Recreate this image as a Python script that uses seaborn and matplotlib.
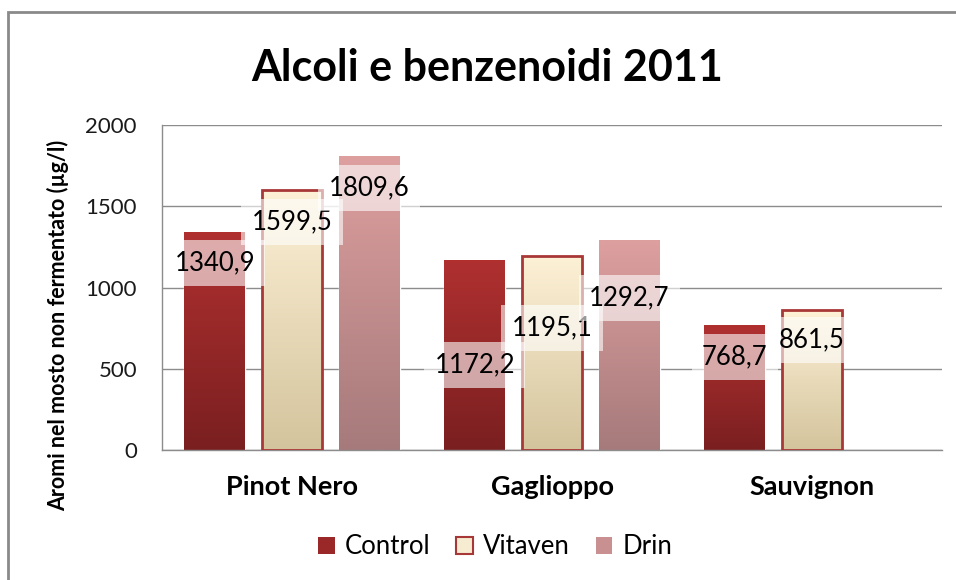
import numpy as np
import pandas as pd
import matplotlib
matplotlib.use("Agg")
import matplotlib.pyplot as plt
import seaborn as sns
from matplotlib.colors import LinearSegmentedColormap
from matplotlib.patches import Patch, Rectangle

# dati
varieta = ["Pinot Nero", "Gaglioppo", "Sauvignon"]
trattamenti = ["Control", "Vitaven", "Drin"]
control = [1340.9, 1172.2, 768.7]
vitaven = [1599.5, 1195.1, 861.5]
drin = [1809.6, 1292.7, np.nan]
yticks = [0, 500, 1000, 1500, 2000]

# altezza (in µg/l) dove stanno le etichette, spostate a mano come nell'originale
label_y = {"Control": [1151, 523, 572],
           "Vitaven": [1403, 751, 677],
           "Drin": [1612, 935, np.nan]}

# colori gradiente (alto, basso)
grad = {"Control": ("#b03030", "#7a1f20"),
        "Vitaven": ("#fdf1d6", "#d4c49d"),
        "Drin": ("#de9f9f", "#a67a7b")}

df = pd.DataFrame({
    "varieta": varieta * 3,
    "trattamento": np.repeat(trattamenti, 3),
    "valore": control + vitaven + drin,
}).dropna()

sns.set_style("white")
plt.rcParams["font.family"] = ["Lato", "DejaVu Sans"]
plt.rcParams["text.color"] = "black"

fig = plt.figure(figsize=(9.56, 5.8), dpi=100)
ax = fig.add_axes([162 / 956, 1 - 450 / 580, 780 / 956, 325 / 580])

sns.barplot(data=df, x="varieta", y="valore", hue="trattamento",
            order=varieta, hue_order=trattamenti, width=0.89, gap=0.21,
            palette=[grad[t][0] for t in trattamenti], legend=False, ax=ax)

ax.set_ylim(0, 2000)
ax.set_xlim(-0.5, 2.5)
ax.set_yticks(yticks)
ax.set_yticklabels([str(v) for v in yticks], fontsize=16, color="#1a1a1a")
ax.set_axisbelow(True)
ax.yaxis.grid(True, color="#8c8c8c", lw=1)
ax.tick_params(axis="y", length=0, pad=18)
ax.tick_params(axis="x", length=0, pad=18)
for lab in ax.get_xticklabels():
    lab.set_fontweight("bold")
    lab.set_fontsize(19.5)
    lab.set_color("black")
ax.set_xlabel("")
ax.set_ylabel("")
for s in ["top", "right"]:
    ax.spines[s].set_visible(False)
for s in ["left", "bottom"]:
    ax.spines[s].set_color("#8c8c8c")
    ax.spines[s].set_linewidth(1)

# gradienti + etichette
valori = {"Control": control, "Vitaven": vitaven, "Drin": drin}
for cont, t in zip(ax.containers, trattamenti):
    cmap = LinearSegmentedColormap.from_list(t, [grad[t][1], grad[t][0]])
    for bar in cont.patches:
        h = bar.get_height()
        if np.isnan(h) or h == 0:
            continue
        x0, w = bar.get_x(), bar.get_width()
        img = ax.imshow(np.linspace(0, 1, 256).reshape(-1, 1), cmap=cmap,
                        origin="lower", aspect="auto",
                        extent=[x0, x0 + w, 0, h], zorder=2)
        img.set_clip_path(bar)
        if t == "Vitaven":
            bar.set_facecolor("none")
            bar.set_edgecolor("#a83838")
            bar.set_linewidth(2)
            bar.set_zorder(3)
        i = int(np.argmin([abs(v - h) if not np.isnan(v) else 1e9 for v in valori[t]]))
        ax.text(x0 + w / 2, label_y[t][i], f"{valori[t][i]:.1f}".replace(".", ","),
                ha="center", va="center", fontsize=18.5, zorder=5,
                bbox=dict(boxstyle="square,pad=0.4", fc="white", ec="none", alpha=0.6))
ax.set_xlim(-0.5, 2.5)
ax.set_ylim(0, 2000)

fig.text(0.51, 1 - 68 / 580, "Alcoli e benzenoidi 2011", ha="center", va="center",
         fontsize=31, fontweight="bold")
fig.text(58 / 956, 1 - 325 / 580, "Aromi nel mosto non fermentato (µg/l)",
         rotation=90, ha="center", va="center", fontsize=15.5, fontweight="bold")

handles = [Patch(fc="#9a2828", ec="none"),
           Patch(fc="#f6ecd2", ec="#a83838", lw=1.5),
           Patch(fc="#c89090", ec="none")]
fig.legend(handles, trattamenti, loc="center", bbox_to_anchor=(0.518, 1 - 547 / 580),
           ncol=3, frameon=False, fontsize=18.5, handlelength=0.65, handleheight=0.65,
           handletextpad=0.4, columnspacing=1.0)

fig.add_artist(Rectangle((8 / 956, -0.1), 1.2, 1.1 - 12 / 580 + 0.0,
                         transform=fig.transFigure, fill=False,
                         ec="#8a8a8a", lw=2))

fig.savefig("out.png", dpi=100)
